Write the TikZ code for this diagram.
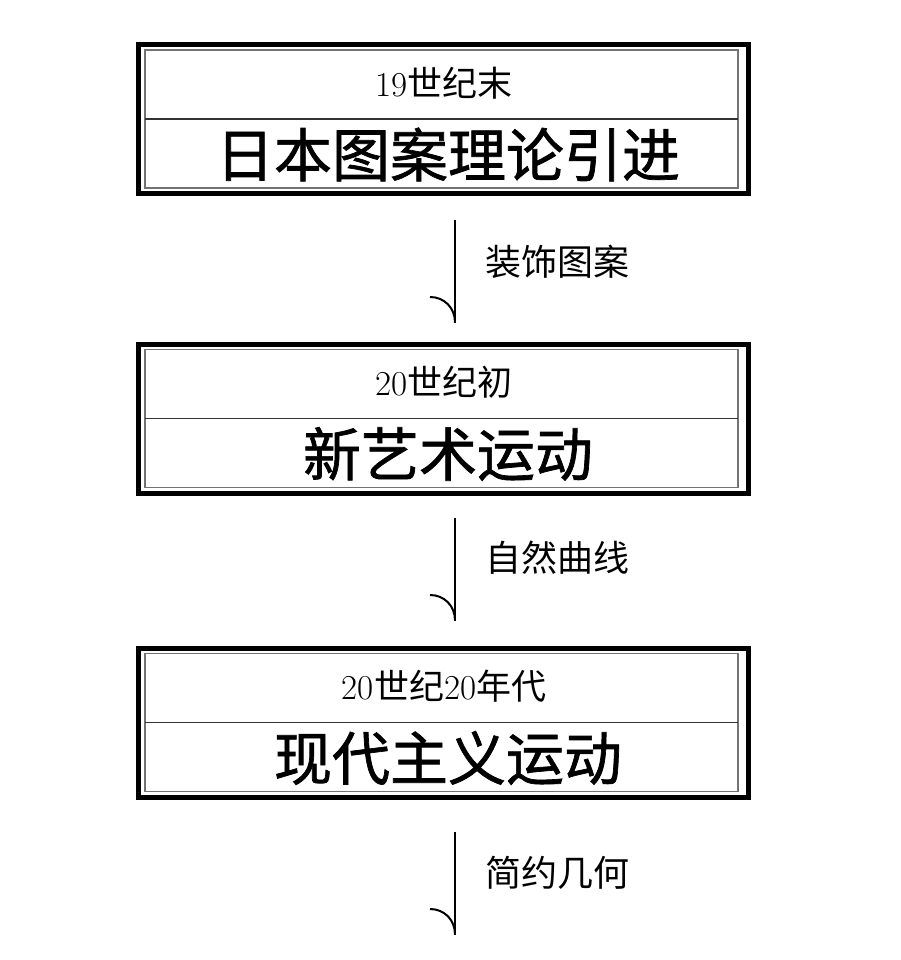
\documentclass[tikz,border=0pt]{standalone}
\usepackage{fontspec}
\newfontfamily\cjk{Noto Sans CJK SC}
\newfontfamily\cjkbig[FakeBold=1.2]{Noto Sans CJK SC}
\begin{document}
\begin{tikzpicture}[x=1pt,y=-1pt,
  outerbox/.style={draw=black,line width=5pt},
  innerbox/.style={draw=black!55,line width=1.3pt},
  divider/.style={draw=black!80,line width=1.1pt},
  smalltitle/.style={font=\fontsize{35}{35}\selectfont,inner sep=0pt,anchor=center},
  bigtitle/.style={font=\fontsize{58}{58}\selectfont\cjkbig,inner sep=0pt,anchor=center},
  edgelabel/.style={font=\fontsize{36}{36}\selectfont\cjk,inner sep=0pt,anchor=west},
  conn/.style={line width=2pt,line cap=butt},
]
\useasboundingbox[fill=white] (0,0) rectangle (900,960);

% ---- boxes ----
\newcommand\stagebox[4]{%
  \draw[outerbox] (138,#1) rectangle (748,#1+149);
  \draw[innerbox] (145,#1+5.5) rectangle (738,#1+143.5);
  \draw[divider] (145,#1+74.5) -- (738,#1+74.5);
  \node[smalltitle] (s#2) at (444,#1+38.5) {#3};
  \node[bigtitle] (b#2) at (448,#1+110) {#4};
}
\stagebox{44.5}{1}{19{\cjk 世纪末}}{日本图案理论引进}
\stagebox{344}{2}{20{\cjk 世纪初}}{新艺术运动}
\stagebox{648}{3}{20{\cjk 世纪}20{\cjk 年代}}{现代主义运动}

% ---- connectors ----
\newcommand\hookarrow[4]{%
  \coordinate (t#1) at (455,#2);
  \coordinate (h#1) at (455,#2+102.5);
  \draw[conn] (t#1) -- (h#1);
  \draw[conn] (h#1) .. controls ([yshift=15pt]h#1) and ([xshift=-11pt,yshift=25.5pt]h#1) .. ([xshift=-25pt,yshift=25.5pt]h#1);
  \node[edgelabel] (l#1) at (485,#3) {#4};
}
\hookarrow{1}{220}{262}{装饰图案}
\hookarrow{2}{518}{558}{自然曲线}
\hookarrow{3}{832}{873}{简约几何}
\end{tikzpicture}
\end{document}
